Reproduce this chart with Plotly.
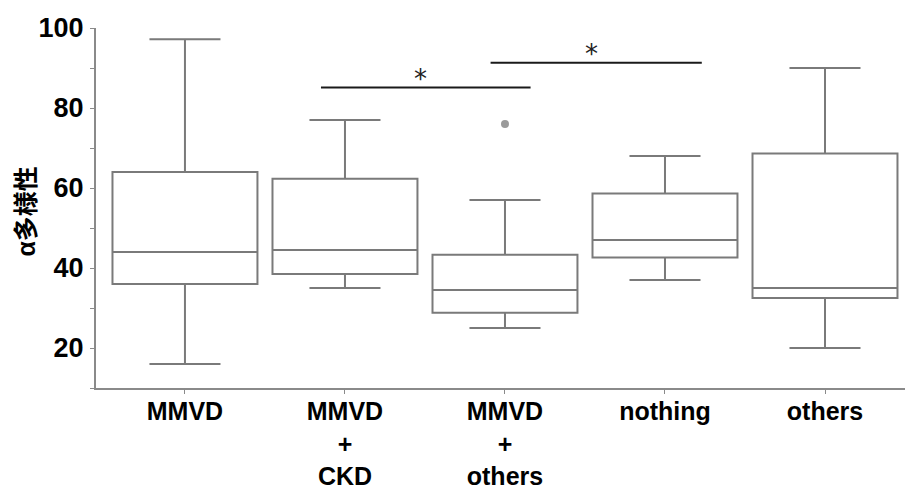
import plotly.graph_objects as go

# Group labels and five-number summaries (alpha diversity)
categories = ["MMVD", "MMVD<br>+<br>CKD", "MMVD<br>+<br>others", "nothing", "others"]
lower_whisker = [16.0, 35.0, 25.0, 37.0, 20.0]
q1_values = [36.0, 38.5, 28.8, 42.6, 32.5]
median_values = [44.0, 44.5, 34.5, 47.0, 35.0]
q3_values = [64.0, 62.3, 43.3, 58.6, 68.6]
upper_whisker = [97.2, 77.0, 57.0, 68.0, 90.0]

# Outlying observation
outlier_group = [2]
outlier_value = [76.0]

# Significance brackets: start, end, height, label
sig_x0 = [0.85, 1.91]
sig_x1 = [2.16, 3.23]
sig_y = [85.1, 91.3]
sig_text = ["*", "*"]

BOX_COLOR = "#7a7a7a"
AXIS_COLOR = "#8a8a8a"
FONT = "Liberation Sans, Arial, Noto Sans CJK JP, sans-serif"

fig = go.Figure()

for i, name in enumerate(categories):
    fig.add_trace(go.Box(
        x=[i],
        q1=[q1_values[i]],
        median=[median_values[i]],
        q3=[q3_values[i]],
        lowerfence=[lower_whisker[i]],
        upperfence=[upper_whisker[i]],
        width=0.906,
        whiskerwidth=0.49,
        fillcolor="rgba(255,255,255,0)",
        line=dict(color=BOX_COLOR, width=2),
        boxpoints=False,
        showlegend=False,
        hoverinfo="skip",
    ))

fig.add_trace(go.Scatter(
    x=outlier_group, y=outlier_value, mode="markers",
    marker=dict(color="#9a9a9a", size=8),
    showlegend=False, hoverinfo="skip",
))

for x0, x1, y, txt in zip(sig_x0, sig_x1, sig_y, sig_text):
    fig.add_shape(type="line", x0=x0, x1=x1, y0=y, y1=y, xref="x", yref="y",
                  line=dict(color="#1a1a1a", width=2))
    fig.add_annotation(x=(x0 + x1) / 2 - 0.03, y=y, xref="x", yref="y",
                       text=txt, showarrow=False, yanchor="bottom", yshift=-8,
                       font=dict(family="DejaVu Sans, sans-serif", size=26, color="#222222"))

fig.add_annotation(
    text="<b>α多様性</b>", textangle=-90, showarrow=False,
    xref="paper", yref="paper", x=-70 / 809, y=0.49,
    xanchor="center", yanchor="middle",
    font=dict(family="Liberation Sans, Noto Sans CJK JP, sans-serif",
              size=25, color="black"),
)

fig.update_layout(
    width=905, height=493,
    margin=dict(l=96, r=0, t=28, b=105),
    paper_bgcolor="white", plot_bgcolor="white",
    xaxis=dict(
        range=[-0.556, 4.5], automargin=False,
        tickmode="array", tickvals=list(range(len(categories))), ticktext=categories,
        showline=True, linecolor=AXIS_COLOR, linewidth=2,
        ticks="outside", ticklen=4, tickcolor=AXIS_COLOR, tickwidth=1,
        showgrid=False, zeroline=False,
        tickfont=dict(family=FONT, size=25, color="black", weight="bold"),
        ticklabelstandoff=-4,
    ),
    yaxis=dict(
        range=[10, 100], automargin=False,
        tickmode="array", tickvals=[20, 40, 60, 80, 100],
        showline=True, linecolor=AXIS_COLOR, linewidth=2,
        ticks="outside", ticklen=4, tickcolor=AXIS_COLOR, tickwidth=1,
        minor=dict(tickmode="array", tickvals=[10, 30, 50, 70, 90],
                   ticks="outside", ticklen=4, tickcolor=AXIS_COLOR, tickwidth=1),
        showgrid=False, zeroline=False,
        tickfont=dict(family=FONT, size=27, color="black", weight="bold"),
        ticklabelstandoff=1,
    ),
)

fig.write_html("out.html")
